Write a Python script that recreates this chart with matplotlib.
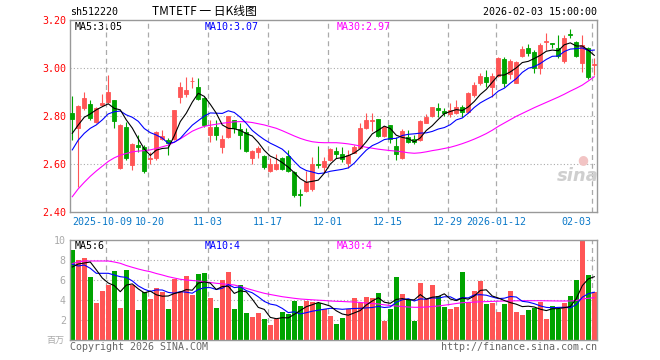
import matplotlib
matplotlib.use("Agg")
import matplotlib.pyplot as plt
import numpy as np

# daily candles, 2025-09 .. 2026-02-03 (88 trading days)
opens = [2.815, 2.750, 2.833, 2.851, 2.778, 2.847, 2.861, 2.868, 2.583, 2.757,
         2.597, 2.679, 2.671, 2.622, 2.625, 2.706, 2.701, 2.704, 2.882, 2.893,
         2.946, 2.921, 2.875, 2.722, 2.754, 2.674, 2.715, 2.785, 2.746, 2.733,
         2.628, 2.653, 2.635, 2.574, 2.581, 2.625, 2.635, 2.569, 2.478, 2.490,
         2.496, 2.601, 2.590, 2.618, 2.656, 2.643, 2.604, 2.649, 2.667, 2.750,
         2.782, 2.789, 2.718, 2.764, 2.676, 2.625, 2.715, 2.706, 2.701, 2.774,
         2.801, 2.833, 2.824, 2.810, 2.815, 2.840, 2.819, 2.889, 2.938, 2.963,
         2.924, 2.968, 3.039, 2.975, 2.940, 3.053, 3.083, 3.069, 3.000, 3.110,
         3.104, 3.083, 3.032, 3.142, 3.111, 3.021, 3.083, 3.015]
highs = [2.885, 2.848, 2.900, 2.868, 2.840, 2.892, 2.972, 2.868, 2.767, 2.778,
         2.688, 2.722, 2.681, 2.653, 2.740, 2.743, 2.708, 2.826, 2.944, 2.965,
         2.965, 2.961, 2.882, 2.785, 2.785, 2.722, 2.801, 2.785, 2.771, 2.750,
         2.660, 2.676, 2.639, 2.625, 2.643, 2.632, 2.660, 2.572, 2.496, 2.574,
         2.632, 2.676, 2.632, 2.667, 2.671, 2.671, 2.660, 2.681, 2.771, 2.813,
         2.815, 2.789, 2.760, 2.764, 2.715, 2.746, 2.743, 2.722, 2.785, 2.810,
         2.840, 2.857, 2.833, 2.854, 2.868, 2.847, 2.903, 2.945, 2.979, 2.993,
         2.979, 3.049, 3.049, 3.040, 3.030, 3.093, 3.101, 3.076, 3.104, 3.146,
         3.107, 3.139, 3.139, 3.163, 3.115, 3.139, 3.088, 3.042]
lows = [2.701, 2.507, 2.825, 2.785, 2.774, 2.844, 2.857, 2.753, 2.581, 2.618,
        2.576, 2.653, 2.563, 2.601, 2.618, 2.701, 2.639, 2.701, 2.854, 2.882,
        2.917, 2.868, 2.757, 2.694, 2.701, 2.649, 2.708, 2.732, 2.663, 2.653,
        2.600, 2.625, 2.581, 2.567, 2.576, 2.576, 2.569, 2.465, 2.428, 2.486,
        2.490, 2.583, 2.569, 2.615, 2.625, 2.611, 2.583, 2.646, 2.663, 2.746,
        2.740, 2.715, 2.713, 2.688, 2.618, 2.621, 2.688, 2.685, 2.697, 2.771,
        2.799, 2.799, 2.801, 2.799, 2.810, 2.796, 2.815, 2.882, 2.931, 2.924,
        2.879, 2.965, 2.921, 2.955, 2.938, 3.049, 3.053, 2.979, 2.976, 3.076,
        3.083, 3.042, 3.021, 3.125, 3.049, 2.986, 2.954, 2.972]
closes = [2.789, 2.843, 2.875, 2.794, 2.833, 2.857, 2.900, 2.781, 2.764, 2.625,
          2.685, 2.674, 2.574, 2.626, 2.736, 2.718, 2.688, 2.826, 2.921, 2.910,
          2.949, 2.872, 2.764, 2.757, 2.722, 2.706, 2.801, 2.753, 2.722, 2.657,
          2.657, 2.667, 2.588, 2.600, 2.601, 2.581, 2.572, 2.472, 2.474, 2.528,
          2.601, 2.596, 2.615, 2.664, 2.642, 2.621, 2.639, 2.671, 2.753, 2.785,
          2.785, 2.718, 2.754, 2.704, 2.642, 2.740, 2.694, 2.692, 2.781, 2.799,
          2.837, 2.826, 2.813, 2.826, 2.837, 2.819, 2.899, 2.931, 2.968, 2.942,
          2.968, 3.044, 2.940, 3.030, 3.028, 3.080, 3.065, 3.000, 3.097, 3.115,
          3.101, 3.051, 3.125, 3.139, 3.051, 3.097, 2.965, 3.018]

ma5 = [2.729, 2.764, 2.796, 2.810, 2.827, 2.840, 2.852, 2.833, 2.827, 2.785,
       2.751, 2.706, 2.664, 2.637, 2.659, 2.666, 2.668, 2.719, 2.778, 2.813,
       2.859, 2.896, 2.883, 2.850, 2.813, 2.764, 2.750, 2.748, 2.741, 2.728,
       2.718, 2.691, 2.658, 2.634, 2.623, 2.607, 2.588, 2.565, 2.540, 2.525,
       2.529, 2.534, 2.563, 2.601, 2.624, 2.628, 2.636, 2.647, 2.665, 2.694,
       2.727, 2.742, 2.759, 2.749, 2.721, 2.712, 2.707, 2.694, 2.710, 2.741,
       2.761, 2.787, 2.811, 2.820, 2.828, 2.824, 2.839, 2.862, 2.891, 2.912,
       2.942, 2.971, 2.972, 2.985, 3.002, 3.024, 3.029, 3.041, 3.054, 3.071,
       3.076, 3.073, 3.098, 3.106, 3.093, 3.093, 3.075, 3.054]
ma10 = [2.660, 2.701, 2.729, 2.750, 2.764, 2.785, 2.810, 2.819, 2.822, 2.806,
        2.796, 2.779, 2.749, 2.732, 2.722, 2.709, 2.687, 2.692, 2.708, 2.736,
        2.763, 2.782, 2.801, 2.814, 2.813, 2.812, 2.823, 2.816, 2.796, 2.771,
        2.741, 2.721, 2.703, 2.688, 2.676, 2.663, 2.640, 2.612, 2.587, 2.574,
        2.568, 2.561, 2.564, 2.571, 2.575, 2.579, 2.585, 2.605, 2.633, 2.659,
        2.678, 2.689, 2.703, 2.707, 2.708, 2.720, 2.725, 2.727, 2.730, 2.731,
        2.737, 2.747, 2.753, 2.765, 2.785, 2.793, 2.813, 2.837, 2.856, 2.870,
        2.883, 2.905, 2.917, 2.938, 2.957, 2.983, 3.000, 3.007, 3.020, 3.037,
        3.050, 3.051, 3.070, 3.080, 3.082, 3.085, 3.074, 3.076]
ma30 = [2.465, 2.498, 2.525, 2.550, 2.572, 2.592, 2.612, 2.627, 2.638, 2.645,
        2.652, 2.655, 2.657, 2.660, 2.666, 2.673, 2.680, 2.692, 2.706, 2.722,
        2.738, 2.749, 2.758, 2.763, 2.767, 2.771, 2.774, 2.777, 2.778, 2.777,
        2.774, 2.769, 2.764, 2.757, 2.750, 2.740, 2.729, 2.718, 2.708, 2.700,
        2.694, 2.691, 2.690, 2.690, 2.690, 2.688, 2.685, 2.681, 2.676, 2.671,
        2.667, 2.663, 2.660, 2.657, 2.655, 2.652, 2.648, 2.646, 2.648, 2.652,
        2.657, 2.661, 2.666, 2.671, 2.678, 2.686, 2.695, 2.705, 2.716, 2.728,
        2.742, 2.758, 2.772, 2.786, 2.800, 2.812, 2.824, 2.836, 2.847, 2.858,
        2.869, 2.880, 2.892, 2.905, 2.917, 2.930, 2.947, 2.965]

volume = [9.00, 8.00, 8.17, 6.27, 3.67, 4.90, 5.50, 6.87, 3.20, 7.00,
          5.50, 3.00, 4.83, 4.10, 5.17, 4.80, 3.10, 6.07, 4.83, 6.40,
          4.50, 6.63, 6.70, 4.20, 3.20, 6.00, 6.80, 3.10, 5.50, 2.70,
          2.30, 2.70, 2.10, 1.50, 2.07, 2.80, 2.60, 3.90, 3.40, 3.93,
          3.83, 3.67, 3.07, 2.43, 1.60, 2.23, 3.07, 4.20, 3.67, 4.33,
          4.23, 4.73, 1.93, 3.13, 6.30, 4.63, 4.10, 1.93, 5.73, 4.10,
          5.53, 4.40, 3.33, 3.13, 3.33, 6.80, 3.83, 4.90, 5.93, 3.63,
          3.73, 2.83, 3.63, 4.90, 2.83, 2.50, 3.03, 3.23, 3.83, 2.13,
          3.40, 3.13, 3.67, 4.43, 6.00, 9.93, 6.50, 4.80]
vol_ma5 = [7.30, 7.60, 7.70, 7.80, 7.02, 6.20, 5.70, 5.44, 4.83, 5.49,
           5.61, 5.11, 4.71, 4.89, 4.52, 4.38, 4.40, 4.65, 4.79, 5.04,
           4.98, 5.69, 5.81, 5.69, 5.05, 5.35, 5.38, 4.66, 4.92, 4.82,
           4.08, 3.26, 3.06, 2.26, 2.13, 2.23, 2.21, 2.57, 2.95, 3.33,
           3.53, 3.75, 3.58, 3.39, 2.92, 2.60, 2.48, 2.71, 2.95, 3.50,
           3.90, 4.23, 3.78, 3.67, 4.06, 4.14, 4.02, 4.02, 4.54, 4.10,
           4.28, 4.34, 4.62, 4.10, 3.94, 4.20, 4.08, 4.40, 4.96, 5.02,
           4.40, 4.20, 3.95, 3.74, 3.58, 3.34, 3.38, 3.30, 3.08, 2.94,
           3.12, 3.14, 3.23, 3.35, 4.13, 5.43, 6.11, 6.33]
vol_ma10 = [7.57, 7.40, 7.50, 7.17, 6.67, 6.67, 6.67, 6.50, 6.33, 6.26,
            5.91, 5.41, 5.08, 4.86, 5.01, 5.00, 4.76, 4.68, 4.84, 4.78,
            4.68, 5.05, 5.23, 5.24, 5.05, 5.17, 5.54, 5.24, 5.31, 4.94,
            4.72, 4.32, 3.86, 3.59, 3.48, 3.16, 2.74, 2.82, 2.61, 2.73,
            2.88, 2.98, 3.08, 3.17, 3.13, 3.07, 3.12, 3.15, 3.17, 3.21,
            3.25, 3.36, 3.25, 3.31, 3.78, 4.02, 4.13, 3.90, 4.11, 4.08,
            4.21, 4.18, 4.32, 4.32, 4.02, 4.24, 4.21, 4.51, 4.53, 4.48,
            4.30, 4.14, 4.18, 4.35, 4.30, 3.87, 3.79, 3.63, 3.41, 3.26,
            3.23, 3.26, 3.27, 3.22, 3.54, 4.28, 4.63, 4.78]
vol_ma30 = [7.65, 7.80, 7.90, 7.90, 7.90, 7.90, 7.90, 7.80, 7.67, 7.45,
            7.27, 7.10, 6.95, 6.83, 6.65, 6.50, 6.33, 6.20, 6.07, 6.00,
            5.95, 5.90, 5.82, 5.75, 5.67, 5.62, 5.56, 5.50, 5.35, 5.17,
            5.00, 4.83, 4.67, 4.55, 4.44, 4.33, 4.25, 4.17, 4.10, 4.06,
            4.02, 3.98, 3.95, 3.90, 3.87, 3.85, 3.82, 3.80, 3.75, 3.70,
            3.65, 3.60, 3.52, 3.45, 3.40, 3.35, 3.30, 3.27, 3.27, 3.30,
            3.35, 3.40, 3.48, 3.56, 3.65, 3.73, 3.76, 3.79, 3.82, 3.84,
            3.86, 3.88, 3.90, 3.91, 3.92, 3.93, 3.93, 3.93, 3.93, 3.92,
            3.91, 3.90, 3.90, 3.90, 3.95, 4.10, 4.17, 4.23]

tick_idx = [6, 13, 23, 33, 43, 53, 63, 71, 87]
tick_labels = ["2025-10-09", "10-20", "11-03", "11-17", "12-01",
               "12-15", "12-29", "2026-01-12", "02-03"]
price_ticks = [2.40, 2.60, 2.80, 3.00, 3.20]
vol_ticks = [2, 4, 6, 8, 10]

RED = "#ff5555"
GREEN = "#00a400"
GRID = "#aaaaaa"
SPINE = "#999999"
MONO = "DejaVu Sans Mono"
CJK = ["Noto Sans CJK SC", "DejaVu Sans"]
FS = 7.2

W, H = 660, 360


def box(l, t, r, b):
    return [l / W, 1 - b / H, (r - l) / W, (b - t) / H]


o = np.array(opens)
c = np.array(closes)
x = np.arange(len(closes))
colors = np.where(c >= o, RED, GREEN)

fig = plt.figure(figsize=(6.6, 3.6), dpi=100)
ax = fig.add_axes(box(70, 20.3, 597.3, 212.3))
axv = fig.add_axes(box(70, 240, 597.3, 340))

for a in (ax, axv):
    a.set_xlim(-0.38, 87.5)
    a.set_xticks([])
    for s in a.spines.values():
        s.set_color(SPINE)
        s.set_linewidth(1)
    for i in tick_idx:
        a.axvline(i - 0.42, color=GRID, lw=0.9, ls=(0, (4, 3)), zorder=0)

# price panel
ax.set_ylim(2.40, 3.20)
ax.set_yticks(price_ticks)
ax.set_yticklabels([f"{v:.2f}" for v in price_ticks], family=MONO)
ax.tick_params(axis="y", length=0, pad=3, labelsize=FS, labelcolor="#ff0000")
for v in price_ticks[1:-1]:
    ax.axhline(v, color=GRID, lw=0.8, ls=(0, (1, 2)), zorder=0)

ax.vlines(x, lows, highs, colors=colors, lw=0.8, zorder=2)
ax.bar(x, np.abs(c - o), bottom=np.minimum(o, c), width=0.72,
       color=colors, edgecolor=colors, linewidth=0.6, zorder=3)
ax.plot(x, ma30, color="#ff00ff", lw=0.8, zorder=4)
ax.plot(x, ma10, color="#0000ff", lw=0.8, zorder=4)
ax.plot(x, ma5, color="#000000", lw=0.8, zorder=4)

# date labels; the first two sit side by side as in the source image
xt = ax.get_xaxis_transform()
shift = {6: -0.55, 13: 0.3}
for i, lab in zip(tick_idx, tick_labels):
    ha = "right" if i == tick_idx[-1] else "center"
    ax.text(i - 0.42 + shift.get(i, 0), -0.048, lab, transform=xt, ha=ha,
            va="center", family=MONO, fontsize=FS, color="#0a78c8")

# volume panel
axv.set_ylim(0, 10)
axv.set_yticks(vol_ticks)
axv.set_yticklabels([str(v) for v in vol_ticks], family=MONO)
axv.tick_params(axis="y", length=0, pad=3, labelsize=FS, labelcolor="#aaaaaa")
for v in vol_ticks[:-1]:
    axv.axhline(v, color=GRID, lw=0.8, ls=(0, (1, 2)), zorder=0)
axv.bar(x, volume, width=0.84, color=colors, linewidth=0, zorder=2)
axv.plot(x, vol_ma30, color="#ff00ff", lw=0.8, zorder=4)
axv.plot(x, vol_ma10, color="#0000ff", lw=0.8, zorder=4)
axv.plot(x, vol_ma5, color="#000000", lw=0.8, zorder=4)


def ftext(px, py, s, **kw):
    kw.setdefault("family", MONO)
    kw.setdefault("fontsize", FS)
    kw.setdefault("va", "center")
    fig.text(px / W, 1 - py / H, s, **kw)


ftext(70, 12, "sh512220")
ftext(152, 12, "TMTETF 一 日K线图", family=CJK, fontsize=8.5)
ftext(597, 12, "2026-02-03 15:00:00", ha="right")

ftext(75, 27, "MA5:3.05", color="#000000")
ftext(205, 27, "MA10:3.07", color="#0000ff")
ftext(337, 27, "MA30:2.97", color="#ff00ff")

ftext(75, 246, "MA5:6", color="#000000")
ftext(205, 246, "MA10:4", color="#0000ff")
ftext(337, 246, "MA30:4", color="#ff00ff")

ftext(64, 340, "百万", family=CJK, fontsize=6.5, color="#aaaaaa", ha="right")
ftext(70, 347, "Copyright 2026 SINA.COM", color="#666666")
ftext(597, 347, "http://finance.sina.com.cn", color="#666666", ha="right")

ftext(578, 176, "sina", family="DejaVu Sans", fontsize=13, fontstyle="italic",
      fontweight="bold", color="#cfcfcf", ha="center")
ftext(583, 160, "●", family="DejaVu Sans", fontsize=9, color="#f2c4c4", ha="center")

fig.savefig("out.png", dpi=100)
